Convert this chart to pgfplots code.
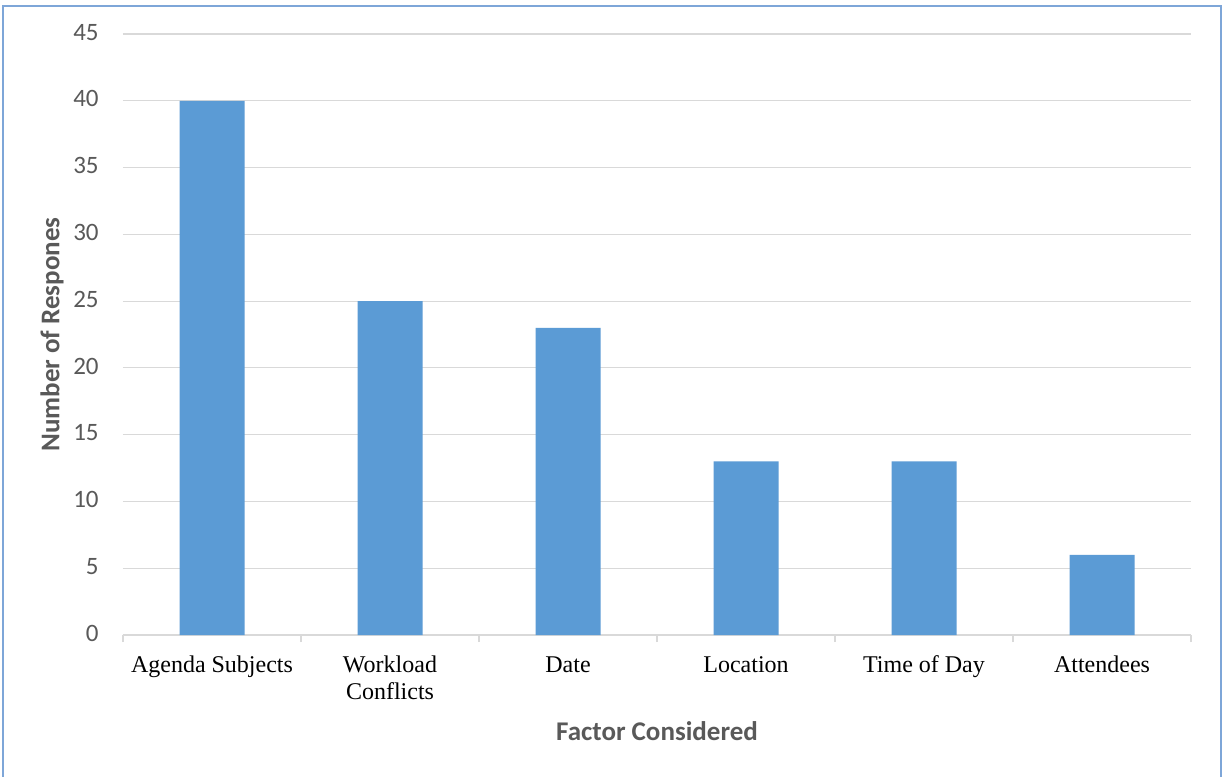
\documentclass[border=0pt]{standalone}
\usepackage{pgfplots}
\pgfplotsset{compat=1.18}
\usepackage{fontspec}
\setmainfont{Liberation Serif}
\newfontfamily\calfont{Carlito}
\definecolor{barblue}{HTML}{5B9BD5}
\definecolor{gridgray}{HTML}{D9D9D9}
\definecolor{txtgray}{HTML}{595959}
\definecolor{frameblue}{HTML}{7EA6D8}
\begin{document}
\begin{tikzpicture}
\useasboundingbox[fill=white] (-61.5pt,-70.5pt) rectangle (551pt,317.5pt);
\draw[frameblue, line width=1pt] (-60pt,-72pt) -- (-60pt,314.5pt) -- (549pt,314.5pt) -- (549pt,-72pt);
\begin{axis}[
  at={(0,0)}, anchor=south west,
  scale only axis,
  width=534pt, height=300.5pt,
  xmin=-0.5, xmax=5.5,
  ymin=0, ymax=45,
  ytick={0,5,...,45},
  xtick={0,...,5},
  xticklabels={Agenda Subjects,{Workload\\Conflicts},Date,Location,Time of Day,Attendees},
  minor xtick={-0.5,0.5,...,5.5},
  major tick length=0pt,
  minor tick length=3.5pt,
  tick align=outside,
  axis x line*=bottom,
  axis y line*=left,
  axis line style={-, gridgray, line width=0.7pt},
  y axis line style={draw=none},
  x tick style={gridgray, line width=0.7pt},
  ytick style={draw=none},
  ymajorgrids,
  grid style={gridgray, line width=0.6pt},
  typeset ticklabels with strut,
  /pgf/number format/assume math mode=true,
  yticklabel style={font=\calfont\fontsize{12.5}{13}\selectfont, text=txtgray, inner sep=0pt, xshift=-12pt, yshift=-0.5pt},
  xticklabel style={font=\fontsize{12}{13.5}\selectfont, text=black, align=center, inner sep=0pt, anchor=north, yshift=-9pt},
  xlabel={Factor Considered},
  ylabel={Number of Respones},
  xlabel style={font=\calfont\bfseries\fontsize{13.5}{15}\selectfont, text=txtgray, at={(axis description cs:0.5,-0.1597)}, anchor=center},
  ylabel style={font=\calfont\bfseries\fontsize{13.5}{15}\selectfont, text=txtgray, at={(axis description cs:-0.0665,0.5)}, anchor=center},
  ybar, bar width=32.5pt,
]
\addplot[draw=none, fill=barblue] coordinates {(0,40) (1,25) (2,23) (3,13) (4,13) (5,6)};
\end{axis}
\end{tikzpicture}
\end{document}
